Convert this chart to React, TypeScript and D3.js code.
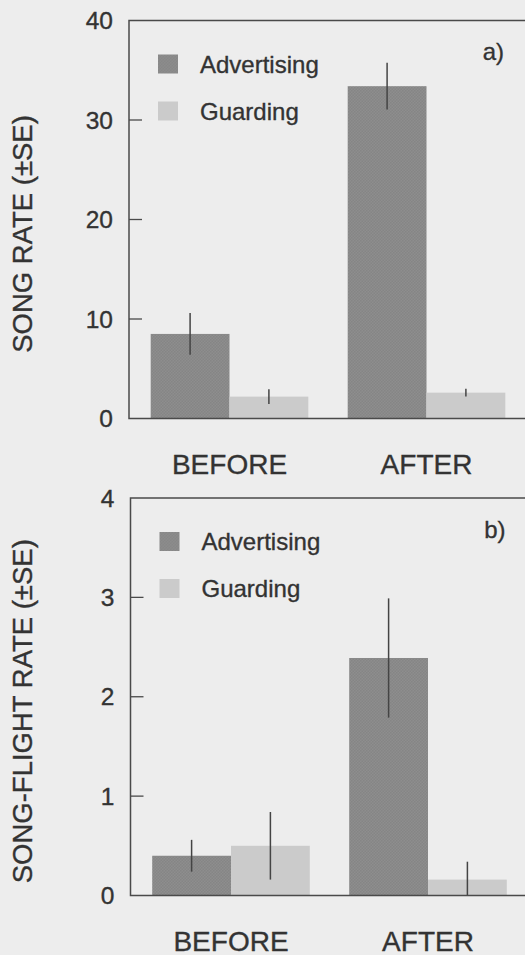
import React from "react";
import * as d3 from "d3";

const groups = ["BEFORE", "AFTER"];
const series = ["Advertising", "Guarding"];

const songRate = [8.5, 2.2, 33.4, 2.6];
const songRateSE = [2.1, 0.75, 2.35, 0.4];
const songTicks = [0, 10, 20, 30, 40];

const flightRate = [0.4, 0.5, 2.39, 0.16];
const flightRateSE = [0.16, 0.34, 0.6, 0.18];
const flightTicks = [0, 1, 2, 3, 4];

const colors: Record<string, string> = { Advertising: "#8b8b8b", Guarding: "#cbcbcb" };
const FONT = "'Liberation Sans', Arial, Helvetica, sans-serif";
const TEXT = "#333";
const AXIS = "#4a4a4a";

type PanelProps = {
  values: number[];
  se: number[];
  ticks: number[];
  yMax: number;
  left: number;
  top: number;
  bottom: number;
  yLabel: string;
  tag: string;
};

const textStyle = { stroke: TEXT, strokeWidth: 0.35 };

function Panel({ values, se, ticks, yMax, left, top, bottom, yLabel, tag }: PanelProps) {
  const y = d3.scaleLinear().domain([0, yMax]).range([bottom, top]);
  const x = d3
    .scaleBand<string>()
    .domain(groups)
    .range([left + 2, left + 396])
    .paddingInner(0.2)
    .paddingOuter(0.1);
  const xi = d3.scaleBand<string>().domain(series).range([0, x.bandwidth()]);
  const mid = (top + bottom) / 2;
  return (
    <g>
      {groups.map((g, gi) =>
        series.map((s, si) => {
          const idx = gi * 2 + si;
          const v = values[idx];
          const x0 = (x(g) as number) + (xi(s) as number);
          return (
            <rect
              key={g + s}
              x={x0}
              y={y(v)}
              width={xi.bandwidth()}
              height={y(0) - y(v)}
              fill={s === "Advertising" ? "url(#hatch)" : colors[s]}
            />
          );
        })
      )}
      {groups.map((g, gi) =>
        series.map((s, si) => {
          const idx = gi * 2 + si;
          const v = values[idx];
          const e = se[idx];
          const cx = (x(g) as number) + (xi(s) as number) + xi.bandwidth() / 2;
          return (
            <line
              key={"e" + g + s}
              x1={cx}
              x2={cx}
              y1={y(v + e)}
              y2={y(Math.max(0, v - e))}
              stroke="#444"
              strokeWidth={1.5}
            />
          );
        })
      )}
      <path
        d={`M${left + 420},${top}H${left}V${bottom}H${left + 420}`}
        fill="none"
        stroke={AXIS}
        strokeWidth={1.5}
      />
      {ticks.map((t) => (
        <g key={t}>
          {t > 0 && t < yMax && (
            <line x1={left} x2={left + 13} y1={y(t)} y2={y(t)} stroke={AXIS} strokeWidth={1.3} />
          )}
          <text
            x={left - 16}
            y={y(t)}
            textAnchor="end"
            dominantBaseline="central"
            fontFamily={FONT}
            fontSize={24.5}
            fill={TEXT}
            style={textStyle}
          >
            {t}
          </text>
        </g>
      ))}
      {groups.map((g) => (
        <text
          key={g}
          x={(x(g) as number) + x.bandwidth() / 2}
          y={bottom + 55}
          textAnchor="middle"
          fontFamily={FONT}
          fontSize={28}
          fill={TEXT}
          style={textStyle}
        >
          {g}
        </text>
      ))}
      <text
        transform={`translate(22,${mid + 14.5}) rotate(-90)`}
        textAnchor="middle"
        dominantBaseline="central"
        fontFamily={FONT}
        fontSize={27.5}
        fill={TEXT}
        style={textStyle}
      >
        {yLabel}
      </text>
      {series.map((s, i) => (
        <g key={s} transform={`translate(${left + 29},${top + 34 + i * 47})`}>
          <rect width={20} height={19} fill={s === "Advertising" ? "url(#hatch)" : colors[s]} />
          <text
            x={42}
            y={9.5}
            dominantBaseline="central"
            fontFamily={FONT}
            fontSize={24}
            fill={TEXT}
            style={textStyle}
          >
            {s}
          </text>
        </g>
      ))}
      <text
        x={left + 375}
        y={top + 31}
        textAnchor="end"
        dominantBaseline="central"
        fontFamily={FONT}
        fontSize={24}
        fill={TEXT}
        style={textStyle}
      >
        {tag}
      </text>
    </g>
  );
}

export default function App() {
  return (
    <svg
      width={525}
      height={955}
      style={{ position: "absolute", left: 0, top: 0, background: "#ededed" }}
    >
      <defs>
        <pattern id="hatch" width={3} height={3} patternUnits="userSpaceOnUse">
          <rect width={3} height={3} fill="#8e8e8e" />
          <rect width={1.5} height={1.5} fill="#858585" />
          <rect x={1.5} y={1.5} width={1.5} height={1.5} fill="#858585" />
        </pattern>
      </defs>
      <rect width={525} height={955} fill="#ededed" />
      <Panel
        values={songRate}
        se={songRateSE}
        ticks={songTicks}
        yMax={40}
        left={129}
        top={20.5}
        bottom={418.5}
        yLabel="SONG RATE (±SE)"
        tag="a)"
      />
      <Panel
        values={flightRate}
        se={flightRateSE}
        ticks={flightTicks}
        yMax={4}
        left={130.5}
        top={498}
        bottom={895.5}
        yLabel="SONG-FLIGHT RATE (±SE)"
        tag="b)"
      />
    </svg>
  );
}
